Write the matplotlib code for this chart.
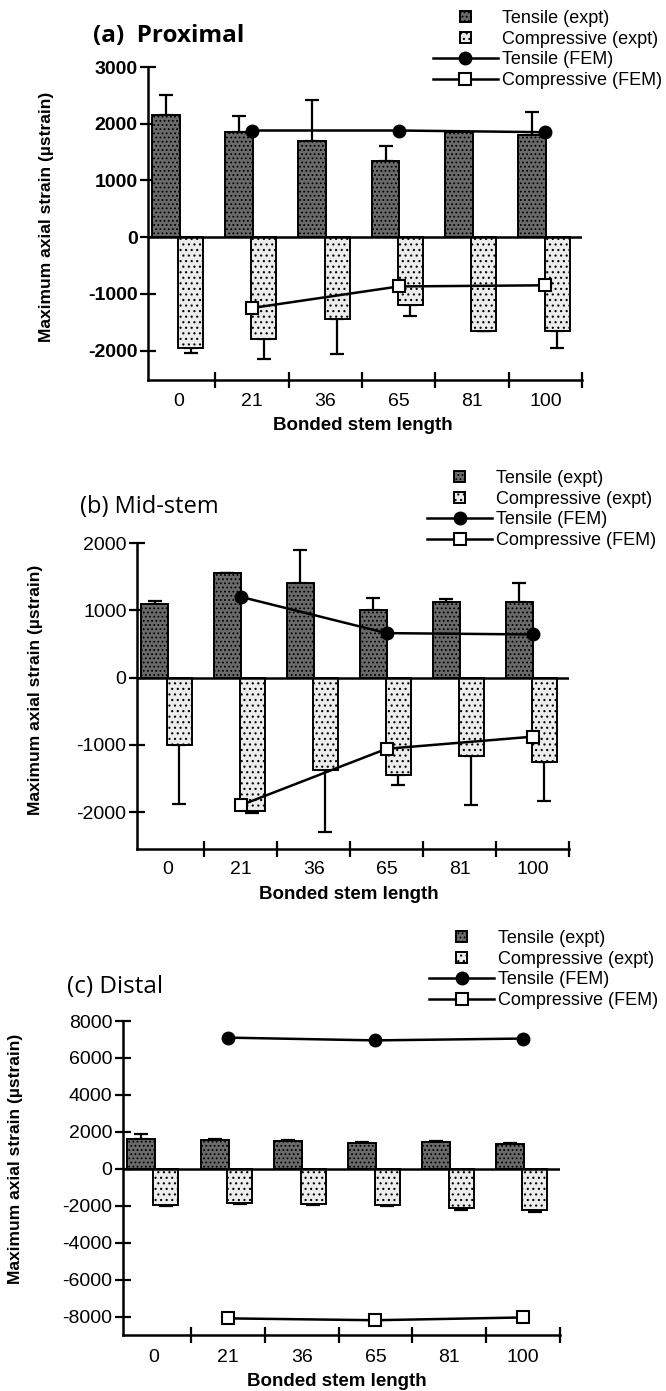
import numpy as np
import matplotlib
matplotlib.use("Agg")
import matplotlib.pyplot as plt
import matplotlib.patches as mpatches
from matplotlib.lines import Line2D
from matplotlib.legend_handler import HandlerPatch

plt.rcParams['font.family'] = ['Liberation Sans', 'DejaVu Sans']
plt.rcParams['hatch.linewidth'] = 0.8

# --------------------------------------------------
# data

x_labels = ['0', '21', '36', '65', '81', '100']
fem_idx = [1, 3, 5]   # FEM results only for 21, 65, 100

tens_a = [2150, 1850, 1700, 1350, 1850, 1800]
tens_a_err = [350, 280, 720, 250, 0, 400]
comp_a = [-1950, -1800, -1450, -1200, -1650, -1650]
comp_a_err = [100, 350, 620, 200, 0, 300]
fem_t_a = [1880, 1880, 1850]
fem_c_a = [-1250, -870, -850]

tens_b = [1100, 1550, 1400, 1000, 1130, 1120]
tens_b_err = [40, 0, 500, 180, 30, 280]
comp_b = [-1000, -1980, -1380, -1450, -1170, -1250]
comp_b_err = [880, 40, 920, 150, 730, 580]
fem_t_b = [1200, 660, 640]
fem_c_b = [-1900, -1060, -880]

tens_c = [1600, 1550, 1480, 1400, 1450, 1350]
tens_c_err = [280, 60, 60, 60, 60, 60]
comp_c = [-1950, -1850, -1900, -1950, -2150, -2250]
comp_c_err = [80, 80, 80, 80, 80, 80]
fem_t_c = [7100, 6950, 7050]
fem_c_c = [-8100, -8200, -8050]

# --------------------------------------------------

W, H = 666, 1391
fig = plt.figure(figsize=(W / 100, H / 100), dpi=100)


def add_axes_px(left, top, right, bottom):
    return fig.add_axes([left / W, 1 - bottom / H,
                         (right - left) / W, (bottom - top) / H])


def small_square(legend, orig_handle, xdescent, ydescent, width, height, fontsize):
    s = height * 0.85
    return mpatches.Rectangle((-xdescent + width / 2 - s / 2,
                               -ydescent + height / 2 - s / 2), s, s)


tens_style = dict(facecolor='#6a6a6a', edgecolor='black', hatch='....', linewidth=1.4)
comp_style = dict(facecolor='#ececec', edgecolor='black', hatch='...', linewidth=1.4)


def panel(box, tens, tens_err, comp, comp_err, fem_t, fem_c,
          ylim, yticks, bold_ticks, xpad, ylab_xy, xlab_xy, leg_xy):

    ax = add_axes_px(*box)
    x = np.arange(len(x_labels))

    ax.bar(x - 0.18, tens, width=0.38, zorder=2, **tens_style)
    ax.bar(x + 0.16, comp, width=0.34, zorder=2, **comp_style)

    ax.errorbar(x - 0.18, tens, yerr=[np.zeros(len(x)), tens_err],
                fmt='none', ecolor='black', elinewidth=1.6,
                capsize=5, capthick=1.6, zorder=1)
    ax.errorbar(x + 0.16, comp, yerr=[comp_err, np.zeros(len(x))],
                fmt='none', ecolor='black', elinewidth=1.6,
                capsize=5, capthick=1.6, zorder=1)

    ax.axhline(0, color='black', linewidth=1.8, zorder=3)

    ax.plot(fem_idx, fem_t, color='black', linewidth=1.8,
            marker='o', markersize=9, zorder=5, clip_on=False)
    ax.plot(fem_idx, fem_c, color='black', linewidth=1.8,
            marker='s', markersize=8, markerfacecolor='white',
            markeredgewidth=1.5, zorder=5, clip_on=False)

    ax.set_xlim(-0.42, 5.5)
    ax.set_ylim(*ylim)
    ax.set_yticks(yticks)
    ax.set_yticklabels([str(v) for v in yticks],
                       fontweight='bold' if bold_ticks else 'normal')

    ax.set_xticks(x)
    ax.set_xticklabels(x_labels)
    ax.set_xticks(np.arange(0.5, 6, 1), minor=True)
    ax.tick_params(axis='x', which='major', length=0, pad=xpad, labelsize=14)
    ax.tick_params(axis='x', which='minor', length=11, width=1.6, direction='inout')
    ax.tick_params(axis='y', length=11, width=1.6, direction='inout',
                   pad=2, labelsize=14)

    for side in ['top', 'right']:
        ax.spines[side].set_visible(False)
    for side in ['left', 'bottom']:
        ax.spines[side].set_linewidth(1.8)

    ax.set_ylabel('Maximum axial strain (\u00b5strain)',
                  fontsize=12.5, fontweight='bold')
    ax.yaxis.label.set_va('center')
    ax.yaxis.set_label_coords(*ylab_xy)

    ax.set_xlabel('Bonded stem length', fontsize=13.5, fontweight='bold')
    ax.xaxis.label.set_va('center')
    ax.xaxis.set_label_coords(*xlab_xy)

    handles = [
        mpatches.Patch(**tens_style),
        mpatches.Patch(**comp_style),
        Line2D([], [], color='black', linewidth=1.8, marker='o', markersize=9),
        Line2D([], [], color='black', linewidth=1.8, marker='s', markersize=8,
               markerfacecolor='white', markeredgewidth=1.5),
    ]
    labels = ['Tensile (expt)', 'Compressive (expt)',
              'Tensile (FEM)', 'Compressive (FEM)']
    ax.legend(handles, labels, loc='upper left',
              bbox_to_anchor=(leg_xy[0] / W, 1 - leg_xy[1] / H),
              bbox_transform=fig.transFigure, frameon=False, fontsize=13,
              handlelength=3.6, handletextpad=0.2, labelspacing=0.2,
              borderpad=0, borderaxespad=0, numpoints=1,
              handler_map={mpatches.Patch: HandlerPatch(patch_func=small_square)})
    return ax


# (a) Proximal
panel((148, 67, 582, 380), tens_a, tens_a_err, comp_a, comp_a_err, fem_t_a, fem_c_a,
      (-2520, 3000), [3000, 2000, 1000, 0, -1000, -2000], True, 9,
      (-0.235, 0.52), (0.495, -0.145), (433, 10))

# (b) Mid-stem
panel((137, 543, 569, 849), tens_b, tens_b_err, comp_b, comp_b_err, fem_t_b, fem_c_b,
      (-2550, 2000), [2000, 1000, 0, -1000, -2000], False, 9,
      (-0.235, 0.52), (0.49, -0.15), (427, 470))

# (c) Distal
panel((123, 1021, 560, 1335), tens_c, tens_c_err, comp_c, comp_c_err, fem_t_c, fem_c_c,
      (-9000, 8000), [8000, 6000, 4000, 2000, 0, -2000, -4000, -6000, -8000], False, 10,
      (-0.245, 0.56), (0.49, -0.148), (429, 930))

title_font = ['Open Sans', 'DejaVu Sans']
fig.text(93 / W, 1 - 36 / H, '(a)  Proximal', fontsize=17.5, fontweight='bold',
         family=title_font, va='center', ha='left')
fig.text(80 / W, 1 - 507 / H, '(b) Mid-stem', fontsize=17,
         family=title_font, va='center', ha='left')
fig.text(67 / W, 1 - 987 / H, '(c) Distal', fontsize=17.5,
         family=title_font, va='center', ha='left')

fig.savefig('out.png', dpi=100)
plt.close(fig)
